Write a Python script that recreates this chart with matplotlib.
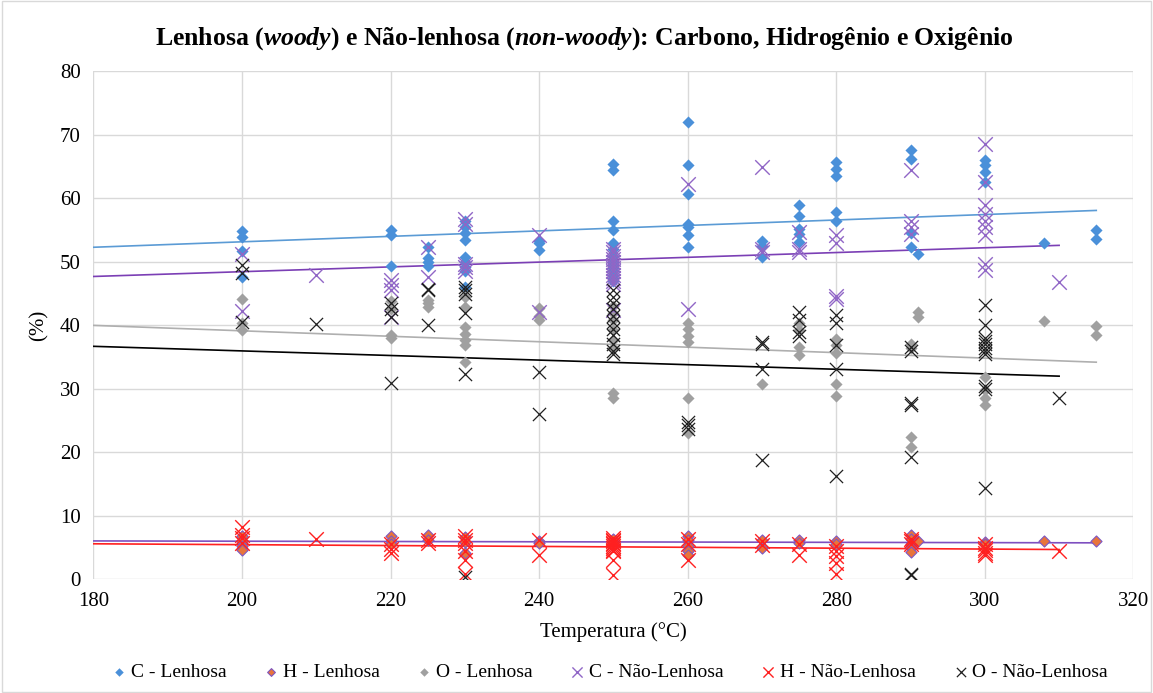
import numpy as np
import matplotlib
matplotlib.use("Agg")
import matplotlib.pyplot as plt
from matplotlib.patches import Rectangle

plt.rcParams['font.family'] = ['Liberation Serif', 'DejaVu Serif']
plt.rcParams['mathtext.fontset'] = 'custom'
plt.rcParams['mathtext.it'] = 'Liberation Serif:italic:bold'
plt.rcParams['mathtext.rm'] = 'Liberation Serif:bold'
plt.rcParams['mathtext.bf'] = 'Liberation Serif:bold'

# (temperature, value) groups
c_len = {200: [54.9, 53.9, 51.7, 47.6], 220: [55.0, 54.2, 49.4],
         225: [52.4, 50.6, 50.0, 49.4],
         230: [56.5, 55.5, 54.5, 53.5, 50.8, 50.0, 49.2, 48.5, 46.0],
         240: [53.3, 53.0, 51.8],
         250: [65.4, 64.4, 56.4, 55.0, 53.0, 52.0, 51.0, 50.0, 49.5, 49.0, 48.5, 48.0, 47.5, 47.0],
         260: [72.1, 65.2, 60.7, 56.0, 55.5, 54.3, 52.3], 270: [53.3, 52.5, 50.7],
         275: [58.9, 57.3, 55.2, 54.4, 53.1], 280: [65.7, 64.7, 63.6, 57.8, 56.5],
         290: [67.6, 66.2, 54.5, 52.3], 291: [51.3], 300: [66.0, 65.2, 64.1, 62.5],
         308: [52.9], 315: [55.0, 53.6]}

h_len = {200: [6.9, 6.0, 5.3, 4.6], 220: [6.9, 6.0, 5.6], 225: [7.0, 6.2],
         230: [6.6, 5.9, 4.1], 240: [6.0, 5.7], 250: [6.3, 5.8, 5.3],
         260: [6.9, 6.2, 5.3, 4.5, 3.9], 270: [6.2, 5.0], 275: [6.2, 5.7],
         280: [6.0, 5.6], 290: [7.0, 6.4, 5.6, 5.0, 4.3], 291: [6.1],
         300: [5.9, 5.5], 308: [6.0], 315: [6.0]}

o_len = {200: [44.2, 40.3, 39.2], 220: [43.8, 42.5, 38.5, 38.0], 225: [44.0, 43.5, 42.9],
         230: [44.5, 42.9, 39.7, 38.7, 37.7, 36.9, 34.2], 240: [42.7, 41.5, 40.8],
         250: [43.0, 42.0, 40.8, 39.2, 37.7, 36.5, 29.3, 28.5],
         260: [40.3, 39.5, 38.4, 37.4, 28.5, 23.0], 270: [30.8],
         275: [40.3, 39.2, 36.6, 35.3], 280: [37.9, 36.9, 35.6, 30.8, 28.8],
         290: [37.1, 36.4, 22.4, 20.9], 291: [42.1, 41.3], 300: [31.9, 29.8, 28.5, 27.4],
         308: [40.7], 315: [39.9, 38.5]}

c_nlen = {200: [51.3, 42.2], 210: [47.9], 220: [47.1, 46.3, 45.5, 41.3], 225: [52.3, 47.6],
          230: [56.8, 56.0, 49.7, 49.2, 48.6], 240: [54.2, 42.1],
          250: [52.0, 51.5, 51.0, 50.5, 50.0, 49.5, 49.0, 48.5, 48.0, 47.5, 47.0, 46.5, 42.4],
          260: [62.3, 42.6], 270: [65.0, 52.0, 51.5], 275: [54.7, 52.1, 51.5],
          280: [54.2, 52.9, 44.7, 44.2], 290: [64.4, 56.5, 55.5, 54.4],
          300: [68.5, 62.5, 59.0, 57.6, 56.5, 55.5, 54.2, 49.7, 48.7], 310: [46.8]}

h_nlen = {200: [8.2, 7.0, 6.5, 5.8], 210: [6.3], 220: [5.6, 4.8, 4.1], 225: [6.2, 5.7],
          230: [6.8, 6.2, 5.8, 4.4, 3.0, 0.9], 240: [6.2, 3.9],
          250: [6.5, 6.2, 6.0, 5.8, 5.5, 5.2, 5.0, 4.7, 4.4, 3.1, 0.7],
          260: [6.3, 5.5, 3.1], 270: [6.0, 5.4], 275: [5.6, 3.9],
          280: [5.3, 4.5, 3.6, 2.5, 0.8], 290: [6.4, 6.0, 5.5],
          300: [5.5, 5.0, 4.6, 4.2, 3.9], 310: [4.5]}

o_nlen = {200: [49.5, 48.2, 40.6], 210: [40.2], 220: [43.5, 42.6, 41.3, 30.9],
          225: [45.8, 45.5, 40.0], 230: [46.0, 45.5, 45.0, 41.9, 32.4, 0.3],
          240: [32.7, 26.1],
          250: [45.5, 44.5, 43.5, 42.5, 41.5, 40.5, 39.5, 38.5, 37.0, 36.0, 35.5],
          260: [24.8, 24.3, 23.6], 270: [37.4, 37.0, 33.2, 18.8],
          275: [42.1, 40.8, 39.0, 38.3], 280: [41.6, 40.3, 36.9, 33.2, 16.2],
          290: [36.6, 36.0, 27.7, 27.4, 19.3, 0.7, 0.9],
          300: [43.2, 40.0, 38.0, 37.5, 37.0, 36.5, 36.0, 35.5, 30.5, 30.0, 14.4],
          310: [28.5]}

# linear trendlines as shown on the chart: (value at 180 °C, value at end, end temperature)
trend_c_len = (52.3, 58.1, 315)
trend_h_len = (6.05, 5.75, 315)
trend_o_len = (40.0, 34.2, 315)
trend_c_nlen = (47.7, 52.6, 310)
trend_h_nlen = (5.6, 4.7, 310)
trend_o_nlen = (36.7, 32.0, 310)


def flatten(d):
    xs, ys = [], []
    for t, vals in d.items():
        xs += [t] * len(vals)
        ys += vals
    return np.array(xs, float), np.array(ys, float)


series = [
    ("C - Lenhosa", c_len, trend_c_len, dict(marker='D', s=38, c='#4A90D9', linewidths=0), '#5B9BD5'),
    ("H - Lenhosa", h_len, trend_h_len, dict(marker='D', s=32, c='#E8743B', edgecolors='#7E57C2', linewidths=0.8), '#7E4FC0'),
    ("O - Lenhosa", o_len, trend_o_len, dict(marker='D', s=38, c='#A0A0A0', linewidths=0), '#AFAFAF'),
    ("C - Não-Lenhosa", c_nlen, trend_c_nlen, dict(marker='x', s=110, c='#9066C6', linewidths=1.0), '#7B3FB5'),
    ("H - Não-Lenhosa", h_nlen, trend_h_nlen, dict(marker='x', s=110, c='#FF2020', linewidths=1.0), '#FF2020'),
    ("O - Não-Lenhosa", o_nlen, trend_o_nlen, dict(marker='x', s=90, c='#202020', linewidths=0.9), '#000000'),
]

fig = plt.figure(figsize=(11.53, 6.93), dpi=100)
ax = fig.add_axes([0.081, 0.164, 0.902, 0.733])

handles = []
for name, d, tr, style, lcolor in series:
    x, y = flatten(d)
    h = ax.scatter(x, y, label=name, zorder=3, **style)
    handles.append(h)
    ax.plot([180, tr[2]], [tr[0], tr[1]], color=lcolor, lw=1.2, zorder=2)

ax.set_xlim(180, 320)
ax.set_ylim(0, 80)
ax.set_xticks(np.arange(180, 321, 20))
ax.set_yticks(np.arange(0, 81, 10))
ax.grid(True, color='#D9D9D9', lw=1)
ax.set_axisbelow(True)
for sp in ax.spines.values():
    sp.set_visible(False)
ax.tick_params(length=0, labelsize=15, pad=9)
ax.set_xlabel("Temperatura (°C)", fontsize=15, labelpad=8)
ax.set_ylabel("(%)", fontsize=15, labelpad=8)
fig.text(0.507, 0.945,
         r"Lenhosa ($\it{woody}$) e Não-lenhosa ($\it{non}$-$\it{woody}$): Carbono, Hidrogênio e Oxigênio",
         fontsize=18.5, fontweight='bold', ha='center', va='center')

fig.legend(handles=handles, loc='lower center', bbox_to_anchor=(0.527, -0.008), ncol=6,
           frameon=False, fontsize=14, handletextpad=0.0, columnspacing=1.7,
           markerscale=0.7, handlelength=1.2)

fig.patches.append(Rectangle((0.002, 0.002), 0.996, 0.996, transform=fig.transFigure,
                             fill=False, edgecolor='#D9D9D9', lw=1))

fig.savefig("out.png", dpi=100)
